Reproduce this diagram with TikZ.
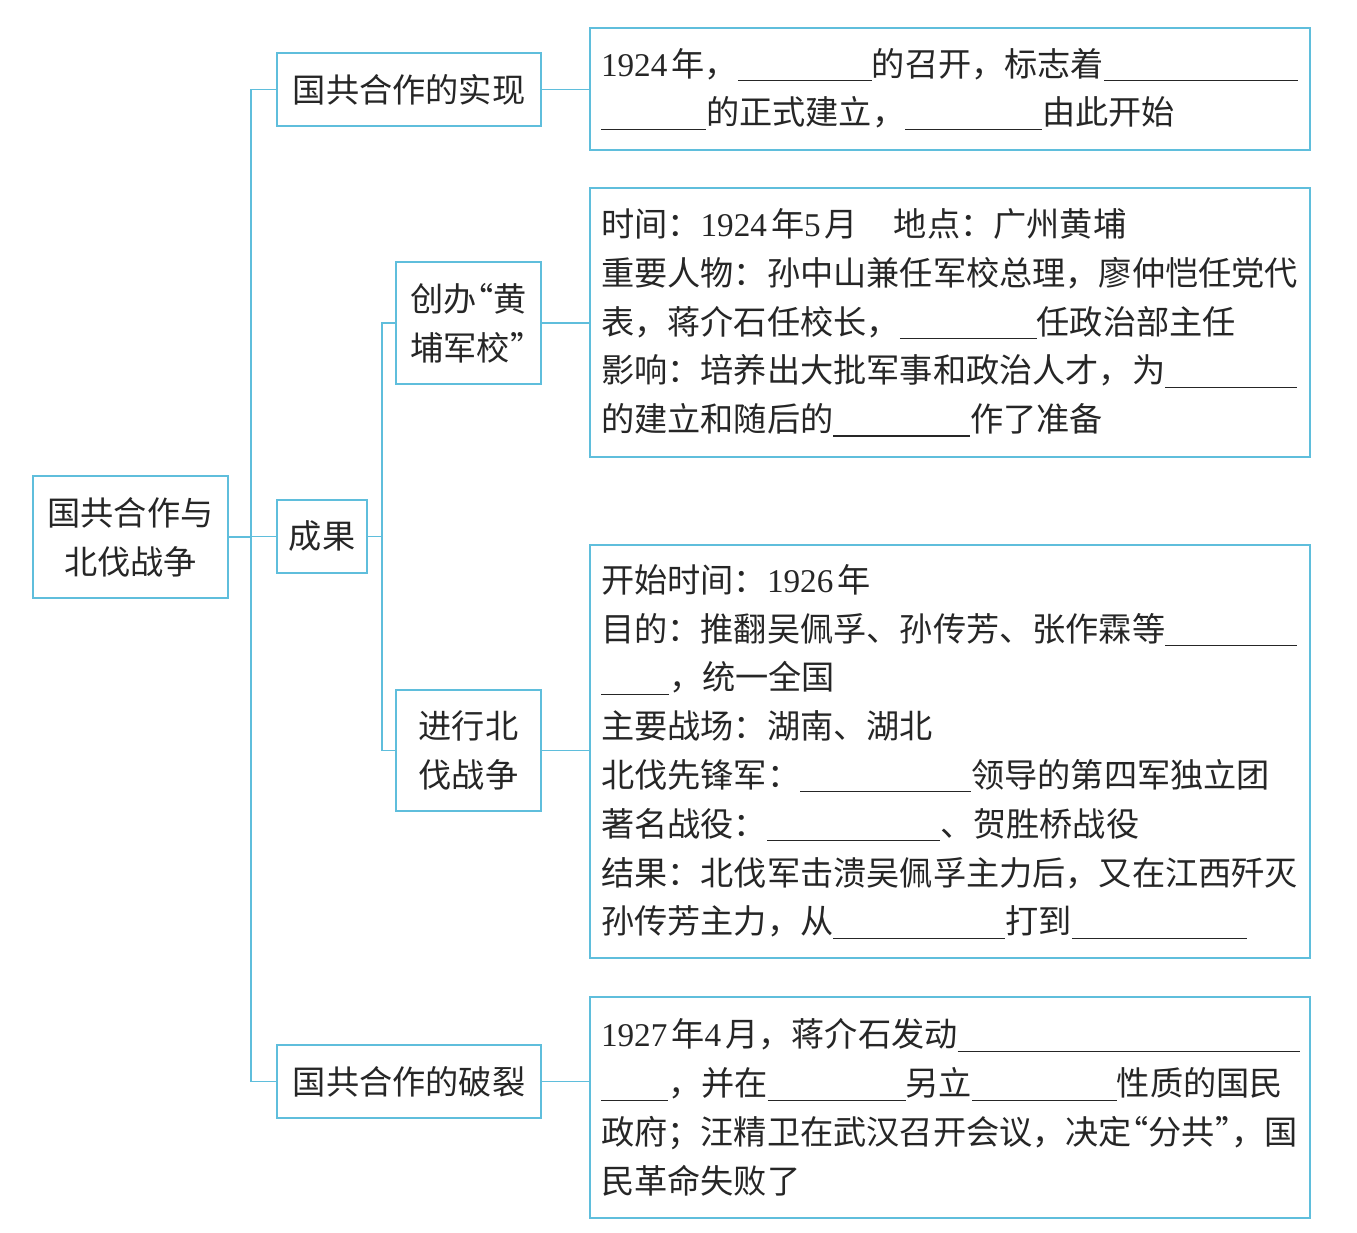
\documentclass[tikz,border=0pt]{standalone}
\usepackage{fontspec}
\setmainfont{Noto Sans CJK SC}
\newfontfamily\numfont{Liberation Serif}
\definecolor{linecyan}{RGB}{95,190,220}
\newcommand{\blank}[1]{\rule[-2.5pt]{#1}{0.6pt}}
\newcommand{\nm}[1]{{\numfont #1}\hspace{2pt}}
\newcommand{\lquo}{\makebox[0.5em][r]{“}}
\newcommand{\rquo}{\makebox[0.5em][l]{”}}

\begin{document}
\begin{tikzpicture}[x=0.5pt,y=-0.5pt]
\tikzstyle{vertex} = [rectangle, draw = linecyan, line width = 0.9pt, text = black!85, inner sep = 0pt, font = \fontsize{16.6}{24.4}\selectfont]
\tikzstyle{detail} = [vertex, text width = 349pt, inner xsep = 5.5pt, minimum width = 360pt, align = left]
\tikzstyle{edge} = [draw = linecyan, line width = 0.8pt]
\useasboundingbox (0,0) rectangle (1357,1233);
\node[vertex, align = center, minimum width = 97.5pt, minimum height = 61pt] (root) at (130.5, 537) {国共合作与\\北伐战争};
\node[vertex, minimum width = 132pt, minimum height = 36.5pt] (real) at (409, 89.5) {国共合作的实现};
\node[vertex, minimum width = 45pt, minimum height = 36.5pt] (result) at (322, 536.5) {成果};
\node[vertex, minimum width = 132pt, minimum height = 36.5pt] (split) at (409, 1081.5) {国共合作的破裂};
\node[vertex, align = left, minimum width = 72.5pt, minimum height = 61pt] (school) at (468.5, 323) {创办\lquo 黄\\埔军校\rquo};
\node[vertex, align = center, minimum width = 72.5pt, minimum height = 60.5pt] (north) at (468.5, 750.5) {进行北\\伐战争};
\node[detail, minimum height = 61pt] (realD) at (950, 89) {\nm{1924}年，\blank{67pt}的召开，标志着\blank{97pt}\\
\blank{52.5pt}的正式建立，\blank{68.5pt}由此开始};
\node[detail, minimum height = 134.5pt] (schoolD) at (950, 322.5) {时间：\nm{1924}年\nm{5}月\hspace{18pt}地点：广州黄埔\\
重要人物：孙中山兼任军校总理，廖仲恺任党代\\
表，蒋介石任校长，\blank{68.5pt}任政治部主任\\
影响：培养出大批军事和政治人才，为\blank{66pt}\\
的建立和随后的\blank{68.5pt}作了准备};
\node[detail, minimum height = 206.5pt] (northD) at (950, 751.5) {开始时间：\nm{1926}年\\
目的：推翻吴佩孚、孙传芳、张作霖等\blank{66pt}\\
\blank{34pt}，统一全国\\
主要战场：湖南、湖北\\
北伐先锋军：\blank{85.5pt}领导的第四军独立团\\
著名战役：\blank{86.5pt}、贺胜桥战役\\
结果：北伐军击溃吴佩孚主力后，又在江西歼灭\\
孙传芳主力，从\blank{86pt}打到\blank{87.5pt}};
\node[detail, minimum height = 110.5pt] (splitD) at (950, 1107.5) {\nm{1927}年\nm{4}月，蒋介石发动\blank{171pt}\\
\blank{33.5pt}，并在\blank{69pt}另立\blank{72.5pt}性质的国民\\
政府；汪精卫在武汉召开会议，决定\lquo 分共\rquo ，国\\
民革命失败了};
\draw[edge] (root.east) -- +(22, 0) |- (real.west);
\draw[edge] (root.east) -- +(22, 0) |- (result.west);
\draw[edge] (root.east) -- +(22, 0) |- (split.west);
\draw[edge] (result.east) -- +(14, 0) |- (school.west);
\draw[edge] (result.east) -- +(14, 0) |- (north.west);
\draw[edge] (real.east) -- (real.east -| realD.west);
\draw[edge] (school.east) -- (school.east -| schoolD.west);
\draw[edge] (north.east) -- (north.east -| northD.west);
\draw[edge] (split.east) -- (split.east -| splitD.west);
\end{tikzpicture}
\end{document}
